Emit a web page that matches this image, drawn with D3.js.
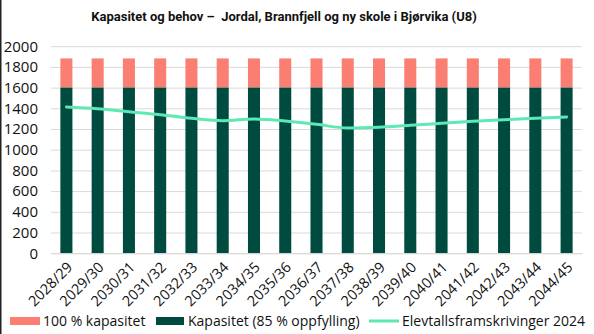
<!DOCTYPE html>
<html><head><meta charset="utf-8">
<script src="https://cdn.jsdelivr.net/npm/d3@7/dist/d3.min.js"></script>
<style>body{margin:0;background:#fff}svg{display:block}</style>
</head><body><div id="chart"></div>
<script>
const categories = ["2028/29","2029/30","2030/31","2031/32","2032/33","2033/34","2034/35","2035/36","2036/37","2037/38","2038/39","2039/40","2040/41","2041/42","2042/43","2043/44","2044/45"];
const kapasitet85 = [1600,1600,1600,1600,1600,1600,1600,1600,1600,1600,1600,1600,1600,1600,1600,1600,1600];
const kapasitet100 = [1882,1882,1882,1882,1882,1882,1882,1882,1882,1882,1882,1882,1882,1882,1882,1882,1882];
const elevtall = [1413,1396,1367,1338,1303,1280,1297,1277,1245,1210,1216,1236,1255,1274,1290,1303,1316];
const yTicks = [0,200,400,600,800,1000,1200,1400,1600,1800,2000];
const title = "Kapasitet og behov \u2013  Jordal, Brannfjell og ny skole i Bjørvika (U8)";
const legendLabels = ["100 % kapasitet","Kapasitet (85 % oppfylling)","Elevtallsframskrivinger 2024"];

const W = 594, H = 334;
const cPink = "#fa7f72", cDark = "#004b3f", cLine = "#5ee8b5";
const font = "'Open Sans', sans-serif";
const svg = d3.select("#chart").append("svg").attr("width", W).attr("height", H);

svg.append("line").attr("x1",0.75).attr("x2",0.75).attr("y1",0).attr("y2",H).attr("stroke","#222").attr("stroke-width",1.5);

const x = d3.scaleBand().domain(categories).range([51, 582]).paddingInner(0.615).paddingOuter(0.3);
const y = d3.scaleLinear().domain([0, 2000]).range([253.2, 46.2]);

svg.append("text").attr("x", 284).attr("y", 21).attr("text-anchor","middle")
  .attr("font-family","Roboto, sans-serif").attr("font-weight","bold").attr("font-size",13)
  .attr("fill","#111").attr("xml:space","preserve").text(title);

const gy = svg.append("g").attr("transform","translate(51,0)")
  .call(d3.axisLeft(y).tickValues(yTicks).tickSize(-531).tickPadding(13).tickFormat(d3.format("d")));
gy.select(".domain").remove();
gy.selectAll(".tick line").attr("stroke","#d9d9d9");
gy.selectAll(".tick text").attr("font-family",font).attr("font-size",15).attr("fill","#111");

const stack = categories.map((c,i)=>({c, dark:kapasitet85[i], total:kapasitet100[i]}));
svg.append("g").selectAll("rect.p").data(stack).join("rect")
  .attr("x", d=>x(d.c)).attr("width", x.bandwidth())
  .attr("y", d=>y(d.total)).attr("height", d=>y(d.dark)-y(d.total)).attr("fill", cPink);
svg.append("g").selectAll("rect.d").data(stack).join("rect")
  .attr("x", d=>x(d.c)).attr("width", x.bandwidth())
  .attr("y", d=>y(d.dark)).attr("height", d=>y(0)-y(d.dark)).attr("fill", cDark);

const line = d3.line().x((d,i)=>x(categories[i])+x.bandwidth()/2).y(d=>y(d)).curve(d3.curveMonotoneX);
svg.append("path").datum(elevtall).attr("d", line).attr("fill","none").attr("stroke",cLine).attr("stroke-width",3).attr("stroke-linecap","round");

const gx = svg.append("g").attr("transform","translate(0,253.2)")
  .call(d3.axisBottom(x).tickSize(0).tickPadding(0));
gx.select(".domain").attr("stroke","#d9d9d9");
gx.selectAll(".tick text").attr("font-family",font).attr("font-size",14.5).attr("fill","#111")
  .attr("text-anchor","end").attr("dy",0)
  .attr("transform","translate(7,15) rotate(-45)");

const lg = svg.append("g").attr("font-family",font).attr("font-size",14).attr("fill","#111");
const ly = 321;
lg.append("rect").attr("x",10).attr("y",ly-4).attr("width",30).attr("height",8).attr("fill",cPink);
lg.append("text").attr("x",43).attr("y",ly+5).text(legendLabels[0]);
lg.append("rect").attr("x",156).attr("y",ly-4).attr("width",28).attr("height",8).attr("fill",cDark);
lg.append("text").attr("x",188).attr("y",ly+5).text(legendLabels[1]);
lg.append("line").attr("x1",369).attr("x2",399).attr("y1",ly).attr("y2",ly).attr("stroke",cLine).attr("stroke-width",3);
lg.append("text").attr("x",402).attr("y",ly+5).text(legendLabels[2]);
</script></body></html>
